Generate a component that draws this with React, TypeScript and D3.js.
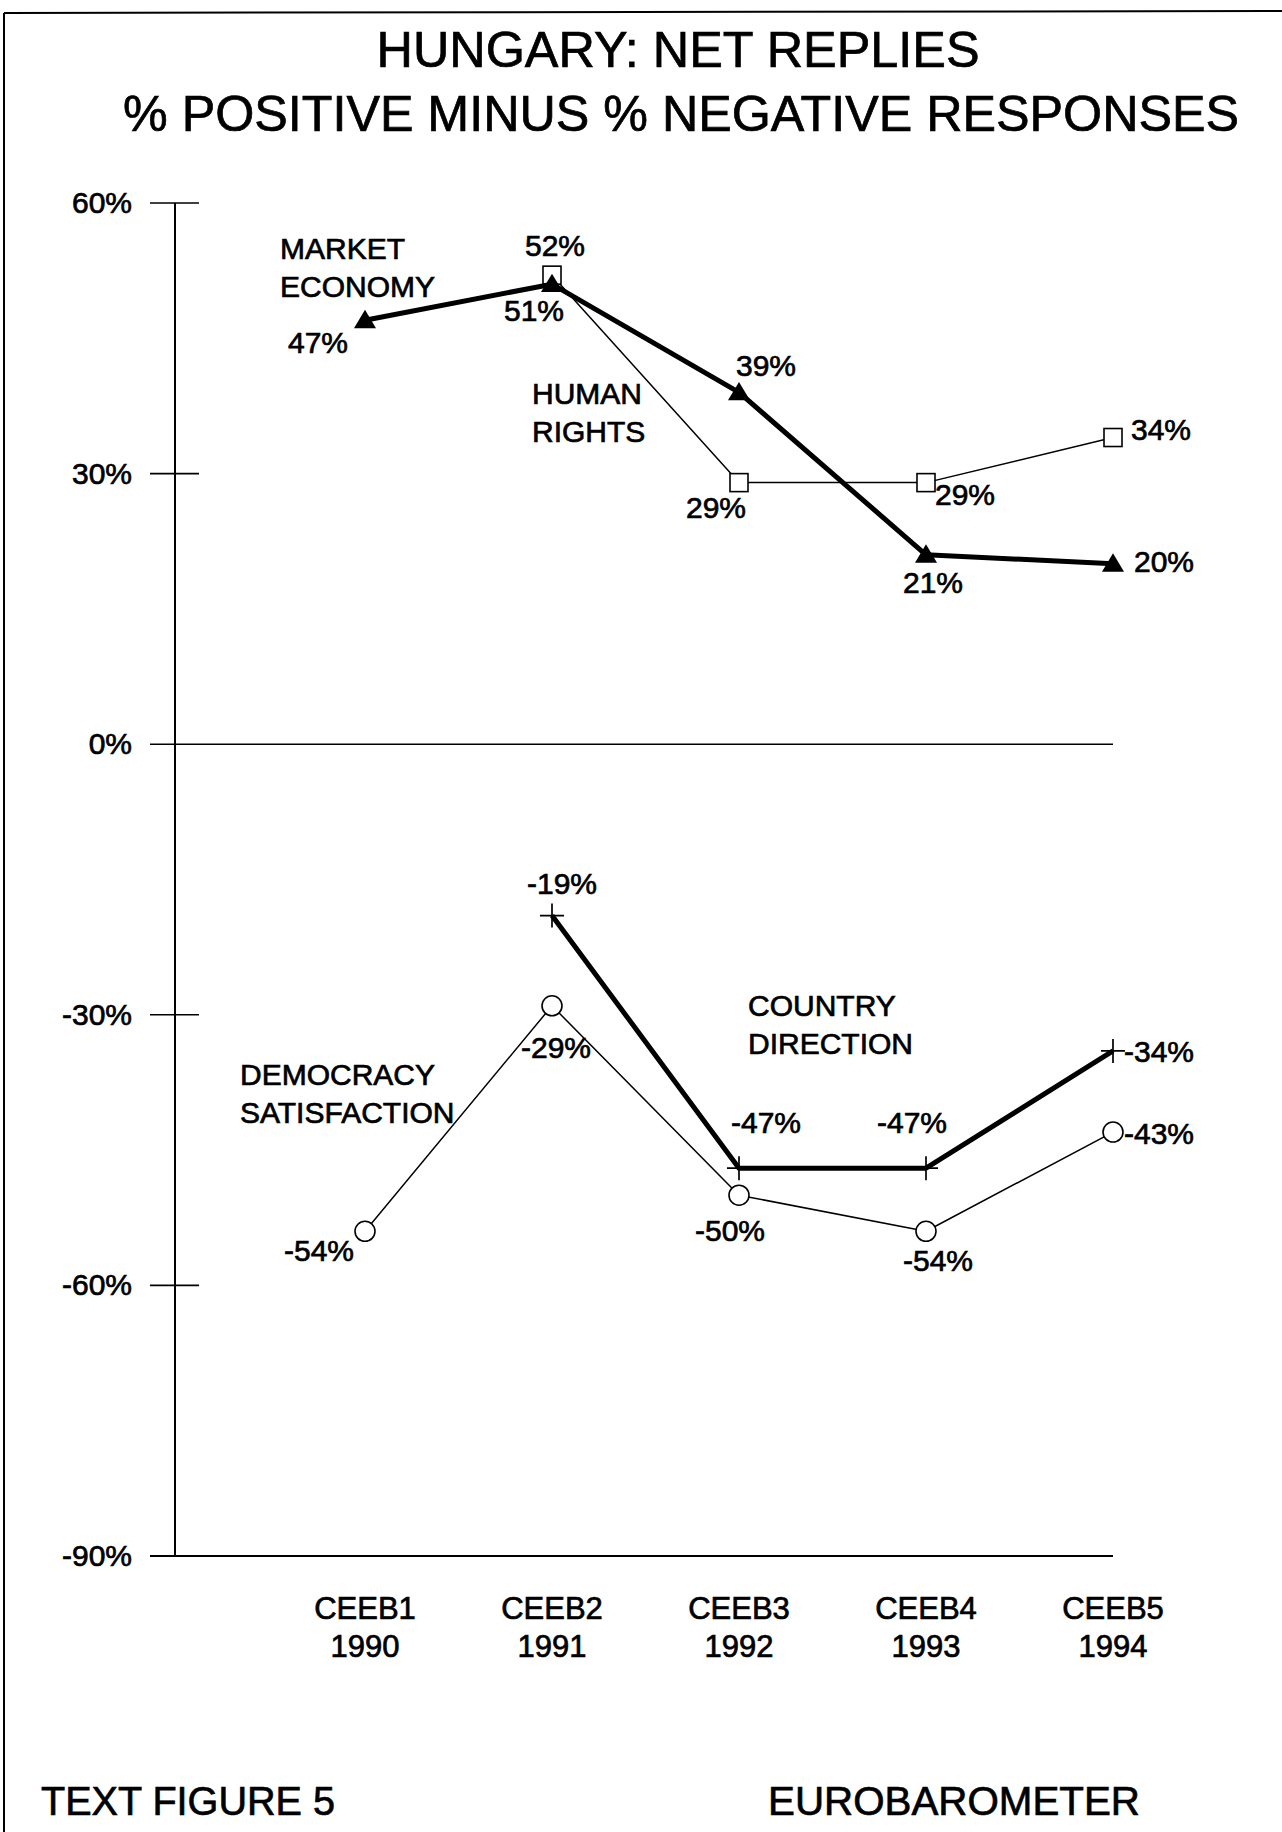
import React from "react";
import * as d3 from "d3";

// Survey waves on the x axis
const waves = ["CEEB1", "CEEB2", "CEEB3", "CEEB4", "CEEB5"];
const years = ["1990", "1991", "1992", "1993", "1994"];

// Net replies (% positive minus % negative), null where the wave has no reading
const marketEconomy = [47, 51, 39, 21, 20];
const humanRights = [null, 52, 29, 29, 34];
const countryDirection = [null, -19, -47, -47, -34];
const democracySatisfaction = [-54, -29, -50, -54, -43];

const yTicks = [60, 30, 0, -30, -60, -90];

const W = 1282;
const H = 1832;
const FONT = "'Liberation Sans', Arial, Helvetica, sans-serif";

const x = d3.scaleLinear().domain([0, 4]).range([365, 1113]);
const y = d3.scaleLinear().domain([-90, 60]).range([1556, 203]);

type Lab = { dx: number; dy: number; anchor: "start" | "middle" | "end" };

// Value-label placement around each marker
const marketLabels: Lab[] = [
  { dx: -47, dy: 33, anchor: "middle" },
  { dx: -18, dy: 37, anchor: "middle" },
  { dx: -3, dy: -16, anchor: "start" },
  { dx: 7, dy: 38, anchor: "middle" },
  { dx: 21, dy: 8, anchor: "start" },
];
const humanLabels: Lab[] = [
  { dx: 0, dy: 0, anchor: "middle" },
  { dx: 3, dy: -19, anchor: "middle" },
  { dx: -23, dy: 35, anchor: "middle" },
  { dx: 9, dy: 22, anchor: "start" },
  { dx: 18, dy: 2, anchor: "start" },
];
const countryLabels: Lab[] = [
  { dx: 0, dy: 0, anchor: "middle" },
  { dx: 10, dy: -22, anchor: "middle" },
  { dx: 27, dy: -35, anchor: "middle" },
  { dx: -14, dy: -35, anchor: "middle" },
  { dx: 11, dy: 11, anchor: "start" },
];
const democracyLabels: Lab[] = [
  { dx: -46, dy: 30, anchor: "middle" },
  { dx: 4, dy: 52, anchor: "middle" },
  { dx: -9, dy: 46, anchor: "middle" },
  { dx: 12, dy: 40, anchor: "middle" },
  { dx: 11, dy: 12, anchor: "start" },
];

// Series name annotations
const annotations = [
  { lines: ["MARKET", "ECONOMY"], x: 280, y: 259 },
  { lines: ["HUMAN", "RIGHTS"], x: 532, y: 404 },
  { lines: ["COUNTRY", "DIRECTION"], x: 748, y: 1016 },
  { lines: ["DEMOCRACY", "SATISFACTION"], x: 240, y: 1085 },
];

type Pt = { i: number; v: number };
const toPts = (arr: (number | null)[]): Pt[] =>
  arr.map((v, i) => ({ i, v })).filter((d) => d.v !== null) as Pt[];

const lineGen = d3
  .line<Pt>()
  .x((d) => x(d.i))
  .y((d) => y(d.v));

// text weight: printed labels are slightly heavier than the regular face
const TS = { stroke: "#000", strokeWidth: 0.7 };

function Triangle({ cx, cy }: { cx: number; cy: number }) {
  const s = 10.5;
  return (
    <path
      d={`M${cx},${cy - s} L${cx + s * 1.05},${cy + s * 0.75} L${cx - s * 1.05},${cy + s * 0.75} Z`}
      fill="#000"
    />
  );
}
function Square({ cx, cy }: { cx: number; cy: number }) {
  const s = 9;
  return (
    <rect x={cx - s} y={cy - s} width={2 * s} height={2 * s} fill="#fff" stroke="#000" strokeWidth={1.6} />
  );
}
function Circle({ cx, cy }: { cx: number; cy: number }) {
  return <circle cx={cx} cy={cy} r={10} fill="#fff" stroke="#000" strokeWidth={1.6} />;
}
function Plus({ cx, cy }: { cx: number; cy: number }) {
  const s = 12;
  return (
    <path
      d={`M${cx - s},${cy} H${cx + s} M${cx},${cy - s} V${cy + s}`}
      stroke="#000"
      strokeWidth={1.7}
      fill="none"
    />
  );
}

function Series({
  values,
  width,
  Marker,
  labels,
}: {
  values: (number | null)[];
  width: number;
  Marker: (p: { cx: number; cy: number }) => React.ReactElement;
  labels: Lab[];
}) {
  const pts = toPts(values);
  return (
    <g>
      <path d={lineGen(pts) || ""} fill="none" stroke="#000" strokeWidth={width} strokeLinejoin="round" />
      {pts.map((d) => (
        <Marker key={d.i} cx={x(d.i)} cy={y(d.v)} />
      ))}
      {pts.map((d) => {
        const l = labels[d.i];
        return (
          <text
            key={"t" + d.i}
            x={x(d.i) + l.dx}
            y={y(d.v) + l.dy}
            textAnchor={l.anchor}
            fontSize={30}
            {...TS}
          >
            {`${d.v}%`}
          </text>
        );
      })}
    </g>
  );
}

export default function App() {
  const axisX = 175;
  return (
    <svg
      width={W}
      height={H}
      viewBox={`0 0 ${W} ${H}`}
      style={{ position: "absolute", left: 0, top: 0, background: "#fff" }}
      fontFamily={FONT}
      fill="#000"
    >
      <rect x={0} y={0} width={W} height={H} fill="#fff" />
      {/* frame */}
      <line x1={4} y1={13} x2={W} y2={11} stroke="#000" strokeWidth={2} />
      <line x1={4} y1={13} x2={4} y2={H} stroke="#000" strokeWidth={2} />

      {/* title */}
      <text x={678} y={67} textAnchor="middle" fontSize={50} textLength={603} lengthAdjust="spacingAndGlyphs" {...TS}>
        HUNGARY: NET REPLIES
      </text>
      <text x={681} y={131} textAnchor="middle" fontSize={50} textLength={1116} lengthAdjust="spacingAndGlyphs" {...TS}>
        % POSITIVE MINUS % NEGATIVE RESPONSES
      </text>

      {/* y axis */}
      <line x1={axisX} y1={y(60)} x2={axisX} y2={y(-90)} stroke="#000" strokeWidth={2} />
      {yTicks.map((t) => {
        const full = t === 0 || t === -90;
        return (
          <g key={t}>
            <line
              x1={150}
              x2={full ? x(4) : 199}
              y1={y(t)}
              y2={y(t)}
              stroke="#000"
              strokeWidth={t === -90 ? 2.2 : 1.6}
            />
            <text x={132} y={y(t) + 10} textAnchor="end" fontSize={30} {...TS}>
              {`${t}%`}
            </text>
          </g>
        );
      })}

      {/* x category labels */}
      {waves.map((w, i) => (
        <g key={w}>
          <text x={x(i)} y={1619} textAnchor="middle" fontSize={31} {...TS}>
            {w}
          </text>
          <text x={x(i)} y={1657} textAnchor="middle" fontSize={31} {...TS}>
            {years[i]}
          </text>
        </g>
      ))}

      {/* series */}
      <Series values={humanRights} width={1.5} Marker={Square} labels={humanLabels} />
      <Series values={marketEconomy} width={5} Marker={Triangle} labels={marketLabels} />
      <Series values={democracySatisfaction} width={1.5} Marker={Circle} labels={democracyLabels} />
      <Series values={countryDirection} width={5} Marker={Plus} labels={countryLabels} />

      {/* series names */}
      {annotations.map((a) => (
        <text key={a.lines[0]} x={a.x} y={a.y} fontSize={30} {...TS}>
          {a.lines.map((ln, k) => (
            <tspan key={k} x={a.x} dy={k === 0 ? 0 : 38}>
              {ln}
            </tspan>
          ))}
        </text>
      ))}

      {/* footer */}
      <text x={41} y={1815} fontSize={41} textLength={294} lengthAdjust="spacingAndGlyphs" {...TS}>
        TEXT FIGURE 5
      </text>
      <text x={768} y={1815} fontSize={41} textLength={372} lengthAdjust="spacingAndGlyphs" {...TS}>
        EUROBAROMETER
      </text>
    </svg>
  );
}
